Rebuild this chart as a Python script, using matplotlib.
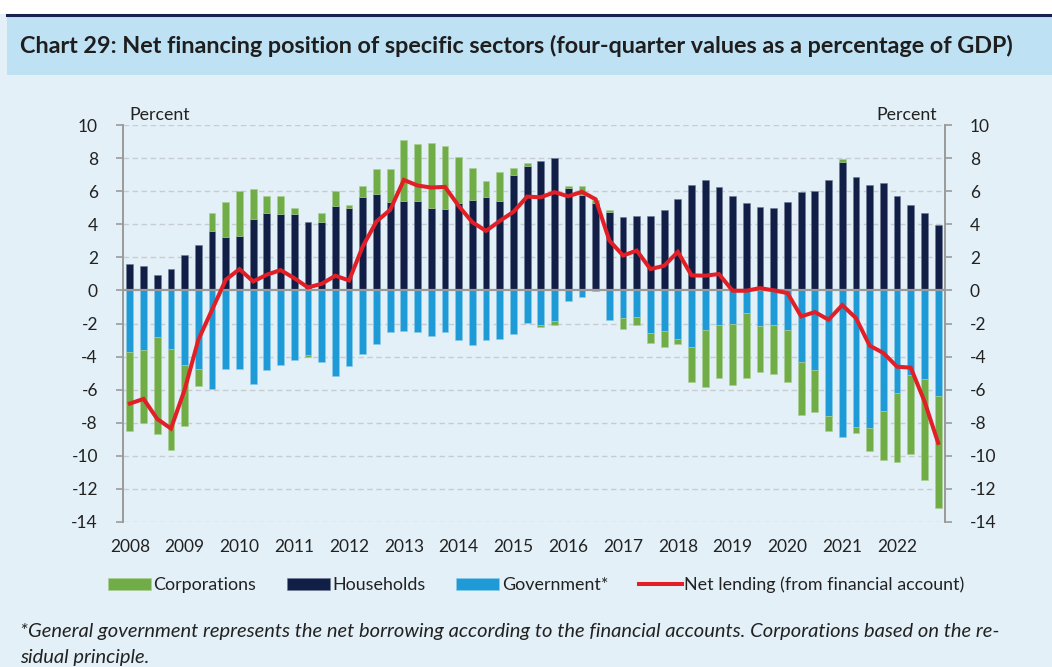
import numpy as np
import matplotlib
matplotlib.use("Agg")
import matplotlib.pyplot as plt
from matplotlib.patches import Rectangle
from matplotlib.lines import Line2D

plt.rcParams['font.family'] = ['Lato', 'DejaVu Sans']

# Quarterly data 2008Q1 - 2022Q4, percent of GDP (four-quarter values)
years = list(range(2008, 2023))
households = [1.59, 1.45, 0.93, 1.29, 2.17, 2.72, 3.60, 3.24,
              3.30, 4.33, 4.69, 4.63, 4.63, 4.14, 4.14, 5.13,
              4.97, 5.65, 5.84, 5.33, 5.41, 5.41, 4.99, 4.91,
              5.31, 5.49, 5.65, 5.41, 6.96, 7.55, 7.83, 7.99,
              6.18, 5.77, 5.27, 4.75, 4.41, 4.49, 4.51, 4.87,
              5.55, 6.40, 6.66, 6.24, 5.69, 5.27, 5.05, 4.99,
              5.35, 5.96, 6.04, 6.70, 7.77, 6.88, 6.36, 6.48,
              5.73, 5.19, 4.67, 3.96]
government = [-3.74, -3.60, -2.84, -3.54, -4.49, -4.73, -5.96, -4.75,
              -4.77, -5.63, -4.83, -4.51, -4.23, -3.90, -4.33, -5.19,
              -4.55, -3.84, -3.24, -2.52, -2.45, -2.49, -2.76, -2.49,
              -3.02, -3.32, -2.98, -2.92, -2.64, -1.99, -2.09, -1.87,
              -0.64, -0.40, -0.05, -1.81, -1.67, -1.61, -2.56, -2.45,
              -2.94, -3.42, -2.37, -2.11, -2.03, -1.37, -2.15, -2.09,
              -2.37, -4.31, -4.79, -7.61, -8.87, -8.23, -8.31, -7.28,
              -6.18, -5.10, -5.33, -6.36]
corporations = [-4.73, -4.43, -5.87, -6.10, -3.70, -1.06, 1.11, 2.09,
                2.72, 1.81, 1.00, 1.06, 0.34, -0.12, 0.53, 0.89,
                0.18, 0.65, 1.52, 2.01, 3.68, 3.42, 3.94, 3.82,
                2.76, 1.93, 0.95, 1.75, 0.42, 0.16, -0.12, -0.22,
                0.14, 0.53, 0.20, 0.10, -0.64, -0.50, -0.64, -0.97,
                -0.32, -2.09, -3.44, -3.18, -3.70, -3.94, -2.80, -2.94,
                -3.18, -3.22, -2.58, -0.86, 0.16, -0.36, -1.37, -2.98,
                -4.20, -4.78, -6.14, -6.78]
net_lending = [-6.84, -6.56, -7.77, -8.35, -6.00, -2.98, -1.17, 0.64,
               1.29, 0.54, 0.95, 1.23, 0.74, 0.18, 0.40, 0.89,
               0.60, 2.66, 4.17, 4.87, 6.68, 6.34, 6.22, 6.26,
               5.11, 4.12, 3.60, 4.20, 4.75, 5.67, 5.63, 5.94,
               5.69, 5.96, 5.51, 3.02, 2.11, 2.41, 1.29, 1.49,
               2.33, 0.91, 0.89, 0.99, -0.02, -0.02, 0.14, 0.00,
               -0.16, -1.57, -1.31, -1.77, -0.89, -1.67, -3.34, -3.78,
               -4.61, -4.67, -6.70, -9.22]

c_corp = '#70AD47'
c_hh = '#111E46'
c_gov = '#1E9BD7'
c_red = '#E21F26'
bg = '#E3F0F7'
txt = '#222222'

hh = np.array(households)
gov = np.array(government)
corp = np.array(corporations)
x = np.arange(len(hh))
corp_bottom = np.where(corp >= 0, hh, gov)

fig = plt.figure(figsize=(10.52, 6.67), dpi=100, facecolor=bg)

# header band
fig.patches.append(Rectangle((0, 1 - 14 / 667), 1, 14 / 667, transform=fig.transFigure,
                             facecolor='white', edgecolor='none', zorder=0))
fig.patches.append(Rectangle((7 / 1052, 1 - 75 / 667), 1, 60 / 667, transform=fig.transFigure,
                             facecolor='#BEE1F3', edgecolor='none', zorder=0))
fig.lines.append(Line2D([7 / 1052, 1], [1 - 14.5 / 667] * 2, transform=fig.transFigure,
                        color='#1B1F4D', lw=2.2))
fig.text(20 / 1052, 1 - 46 / 667,
         'Chart 29: Net financing position of specific sectors (four-quarter values as a percentage of GDP)',
         fontsize=16.8, fontweight='bold', color='#1E1E1E', va='center', ha='left')

ax = fig.add_axes([123 / 1052, 1 - 522 / 667, 822 / 1052, 397 / 667])
ax.set_facecolor(bg)

ax.bar(x, hh, width=0.5, color=c_hh, edgecolor='#6F7A95', linewidth=0.4, zorder=2, label='Households')
ax.bar(x, gov, width=0.5, color=c_gov, edgecolor='#8CCBEA', linewidth=0.4, zorder=2, label='Government*')
ax.bar(x, corp, bottom=corp_bottom, width=0.5, color=c_corp, edgecolor='#A9CF92', linewidth=0.4,
       zorder=2, label='Corporations')
ax.axhline(0, color='#9A9A9A', lw=1.6, zorder=3)
ax.plot(x, net_lending, color=c_red, lw=2.9, zorder=4, solid_joinstyle='miter',
        label='Net lending (from financial account)')

ax.set_xlim(-0.5, len(x) - 0.5)
ax.set_ylim(-14, 10)
yt = np.arange(-14, 11, 2)
ax.set_yticks(yt)
ax.set_yticklabels([str(v) for v in yt])
for v in yt:
    if v != 0:
        ax.axhline(v, color='#C6CDD2', lw=1, ls=(0, (4, 2.5)), zorder=1)

ax.set_xticks(x[::4])
ax.set_xticklabels([str(y) for y in years])
ax.tick_params(axis='x', length=0, pad=12, labelsize=12.5, colors=txt)
ax.tick_params(axis='y', direction='out', length=5, width=1.2, color='#9A9A9A',
               labelsize=12.5, labelcolor=txt, pad=13)

for s in ['top', 'bottom', 'right']:
    ax.spines[s].set_visible(False)
ax.spines['left'].set_color('#9A9A9A')
ax.spines['left'].set_linewidth(1.4)

ax2 = ax.twinx()
ax2.set_ylim(-14, 10)
ax2.set_yticks(yt)
ax2.set_yticklabels([str(v) for v in yt])
ax2.tick_params(axis='y', direction='out', length=5, width=1.2, color='#9A9A9A',
                labelsize=12.5, labelcolor=txt, pad=13)
for s in ['top', 'bottom', 'left']:
    ax2.spines[s].set_visible(False)
ax2.spines['right'].set_color('#9A9A9A')
ax2.spines['right'].set_linewidth(1.4)

ax.text(0.008, 1.006, 'Percent', transform=ax.transAxes, fontsize=12.8, color=txt,
        ha='left', va='bottom')
ax.text(0.99, 1.006, 'Percent', transform=ax.transAxes, fontsize=12.8, color=txt,
        ha='right', va='bottom')

handles, labels = ax.get_legend_handles_labels()
order = ['Corporations', 'Households', 'Government*', 'Net lending (from financial account)']
hmap = dict(zip(labels, handles))
fig.legend([hmap[k] for k in order], order, loc='center', bbox_to_anchor=(536 / 1052, 1 - 585 / 667),
           ncol=4, frameon=False, fontsize=12.9, handlelength=2.4, handleheight=0.6,
           handletextpad=0.15, columnspacing=1.7, labelcolor=txt)

fig.text(20 / 1052, 1 - 631 / 667,
         '*General government represents the net borrowing according to the financial accounts. '
         'Corporations based on the re-',
         fontsize=14.5, style='italic', color=txt, va='center', ha='left')
fig.text(20 / 1052, 1 - 657 / 667, 'sidual principle.',
         fontsize=14.5, style='italic', color=txt, va='center', ha='left')

fig.savefig('out.png', dpi=100, facecolor=bg)
